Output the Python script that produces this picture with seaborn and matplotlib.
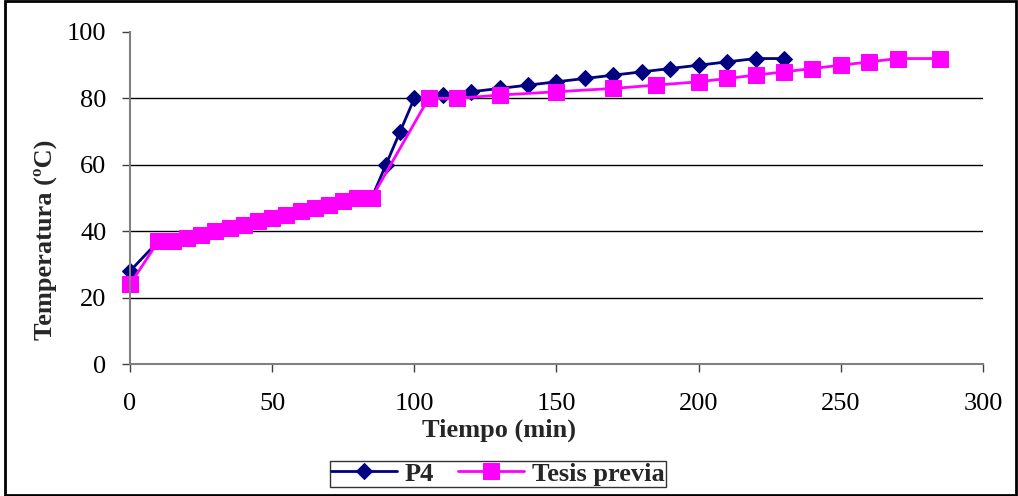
import matplotlib
matplotlib.use("Agg")
import matplotlib.pyplot as plt
import seaborn as sns
import pandas as pd
from matplotlib.patches import Rectangle

p4_time = [0, 10, 15, 20, 25, 30, 35, 40, 45, 50, 55, 60, 65, 70, 75, 80, 85,
           90, 95, 100, 110, 120, 130, 140, 150, 160, 170, 180, 190, 200, 210, 220, 230]
p4_temp = [28, 37, 37, 38, 39, 40, 41, 42, 43, 44, 45, 46, 47, 48, 49, 50, 50,
           60, 70, 80, 81, 82, 83, 84, 85, 86, 87, 88, 89, 90, 91, 92, 92]

prev_time = [0, 10, 15, 20, 25, 30, 35, 40, 45, 50, 55, 60, 65, 70, 75, 80, 85,
             105, 115, 130, 150, 170, 185, 200, 210, 220, 230, 240, 250, 260, 270, 285]
prev_temp = [24, 37, 37, 38, 39, 40, 41, 42, 43, 44, 45, 46, 47, 48, 49, 50, 50,
             80, 80, 81, 82, 83, 84, 85, 86, 87, 88, 89, 90, 91, 92, 92]

series_names = ["P4", "Tesis previa"]
x_ticks = [0, 50, 100, 150, 200, 250, 300]
y_ticks = [0, 20, 40, 60, 80, 100]

sns.set_theme(style="white")
plt.rcParams['font.family'] = ['Liberation Serif', 'DejaVu Serif']

fig = plt.figure(figsize=(10.18, 4.96), dpi=100)
ax = fig.add_axes([0.1277, 0.2661, 0.8379, 0.6694])

df1 = pd.DataFrame({"t": p4_time, "T": p4_temp})
df2 = pd.DataFrame({"t": prev_time, "T": prev_temp})

sns.lineplot(data=df1, x="t", y="T", ax=ax, color="#000080", marker="D",
             markersize=8.5, markeredgecolor="#000080", linewidth=2, label=series_names[0],
             clip_on=False)
sns.lineplot(data=df2, x="t", y="T", ax=ax, color="#FF00FF", marker="s",
             markersize=11, markeredgecolor="#FF00FF", linewidth=2, label=series_names[1],
             clip_on=False)

ax.set_xlim(0, 300)
ax.set_ylim(0, 100)
ax.set_xticks(x_ticks)
ax.set_yticks(y_ticks)
for y in y_ticks[1:-1]:
    ax.axhline(y, color="black", linewidth=1, zorder=0)

for s in ["top", "right"]:
    ax.spines[s].set_visible(False)
for s in ["left", "bottom"]:
    ax.spines[s].set_color("#808080")
    ax.spines[s].set_linewidth(1.5)
ax.tick_params(axis="both", which="major", direction="out", length=6, width=1,
               color="#404040", labelsize=19, labelcolor="black", bottom=True, left=True)
ax.tick_params(axis="x", pad=15)
ax.tick_params(axis="y", pad=11)

ax.set_xlabel("Tiempo (min)", fontsize=19, fontweight="bold")
ax.xaxis.set_label_coords(0.4326, -0.165)
ax.set_ylabel("Temperatura (ºC)", fontsize=19, fontweight="bold")
ax.yaxis.set_label_coords(-0.085, 0.373)

leg = ax.legend(loc="center", bbox_to_anchor=(0.4314, -0.331), ncol=2, frameon=True,
                fancybox=False, edgecolor="black", prop={"weight": "bold", "size": 19},
                handlelength=2.5, columnspacing=0.9, borderpad=0.05, borderaxespad=0,
                handletextpad=0.3)
leg.get_frame().set_linewidth(1)

fig.patches.append(Rectangle((0.005, 0.002), 0.993, 0.996, transform=fig.transFigure,
                             fill=False, edgecolor="black", linewidth=2))

fig.savefig("out.png", dpi=100)
